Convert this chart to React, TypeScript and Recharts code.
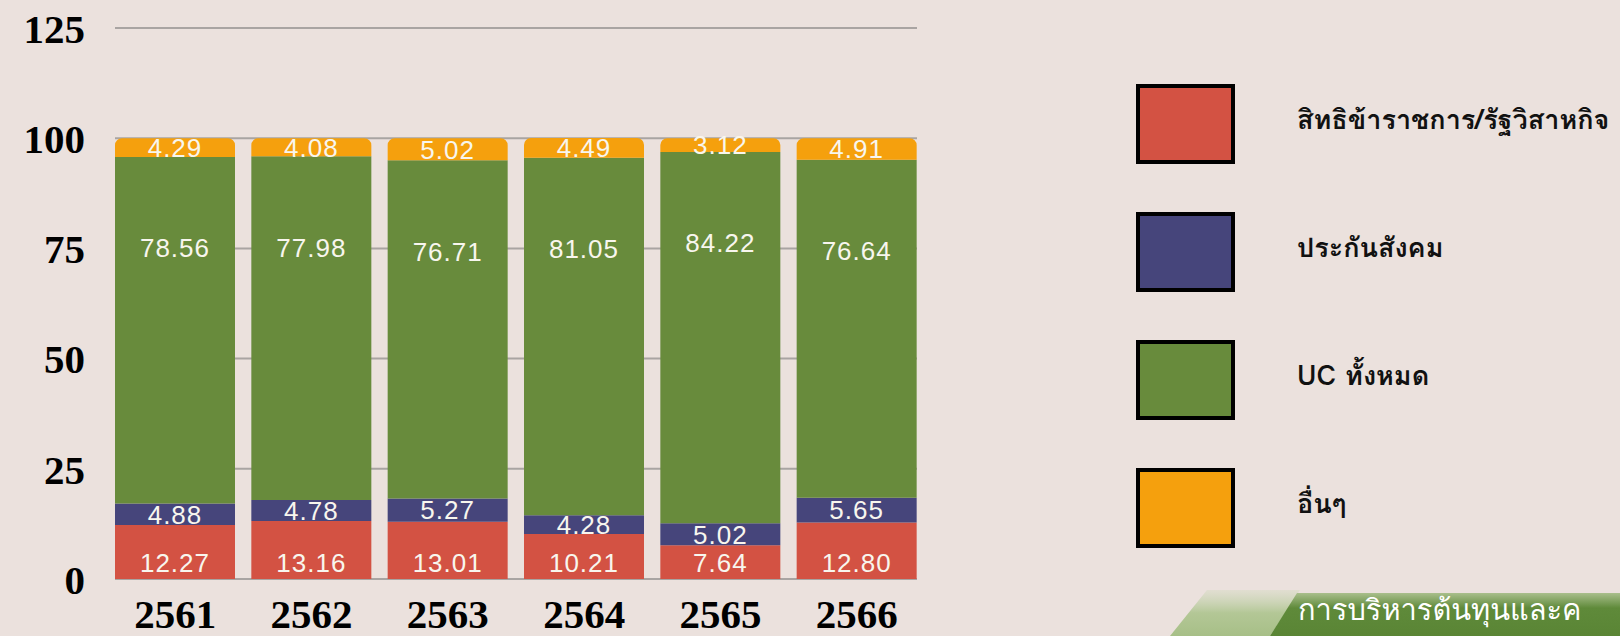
import React from 'react';
import { BarChart, Bar, XAxis, YAxis, CartesianGrid, LabelList } from 'recharts';

const years = ['2561', '2562', '2563', '2564', '2565', '2566'];
const civilServant = [12.27, 13.16, 13.01, 10.21, 7.64, 12.8];
const socialSecurity = [4.88, 4.78, 5.27, 4.28, 5.02, 5.65];
const ucAll = [78.56, 77.98, 76.71, 81.05, 84.22, 76.64];
const others = [4.29, 4.08, 5.02, 4.49, 3.12, 4.91];
const yTicks = [0, 25, 50, 75, 100, 125];
const seriesKeys = ['civil', 'social', 'uc', 'other'];
const seriesNames = ['สิทธิข้าราชการ/รัฐวิสาหกิจ', 'ประกันสังคม', 'UC ทั้งหมด', 'อื่นๆ'];
const seriesColors = ['#d35243', '#46457b', '#688b3c', '#f5a00d'];
const bannerText = 'การบริหารต้นทุนและค';

const data = years.map((y, i) => ({
  year: y,
  civil: civilServant[i],
  social: socialSecurity[i],
  uc: ucAll[i],
  other: others[i],
}));

const BG = '#ebe1dd';
const LABEL_FONT = "'Liberation Sans', Arial, sans-serif";
const SERIF = "'Liberation Serif', 'Times New Roman', serif";
const THAI = "Tahoma, Loma, Garuda, 'Noto Sans Thai Looped', 'Noto Serif Thai', 'Noto Sans Thai', 'Noto Sans', 'DejaVu Sans', sans-serif";

const fmt = (v: any) => Number(v).toFixed(2);

const makeLabel = (mode: 'bottom' | 'center' | 'top') => (props: any) => {
  const { x, y, width, height, value } = props;
  let cy = y + height / 2;
  if (mode === 'bottom') cy = y + height - 16;
  if (mode === 'top') cy = y + 91;
  return (
    <text
      x={x + width / 2}
      y={cy}
      dy="0.36em"
      textAnchor="middle"
      fill="#f8f6ee"
      fontFamily={LABEL_FONT}
      fontSize={26}
      letterSpacing={1}
    >
      {fmt(value)}
    </text>
  );
};

const XTick = (props: any) => {
  const { x, y, payload } = props;
  return (
    <text x={x} y={y + 41} textAnchor="middle" fontFamily={SERIF} fontWeight="bold" fontSize={41} fill="#000">
      {payload.value}
    </text>
  );
};

const YTick = (props: any) => {
  const { x, y, payload } = props;
  return (
    <text x={x} y={y} dy="0.36em" textAnchor="end" fontFamily={SERIF} fontWeight="bold" fontSize={41} fill="#000">
      {payload.value}
    </text>
  );
};

const LegendBlock = () => (
  <div style={{ position: 'absolute', left: 1136, top: 84 }}>
    {seriesNames.map((name, i) => (
      <div key={name} style={{ display: 'flex', alignItems: 'center', height: 79, marginBottom: 49 }}>
        <div
          style={{
            width: 91,
            height: 72,
            background: seriesColors[i],
            border: '4px solid #000',
            boxSizing: 'content-box',
          }}
        />
        <div
          style={{
            marginLeft: 62,
            marginTop: -8,
            fontFamily: THAI,
            fontWeight: 'bold',
            fontSize: 27,
            color: '#111',
            whiteSpace: 'nowrap',
          }}
        >
          {name}
        </div>
      </div>
    ))}
  </div>
);

const Banner = () => (
  <svg width={460} height={70} style={{ position: 'absolute', left: 1160, top: 566 }}>
    <defs>
      <linearGradient id="lg1" x1="0" y1="0" x2="0" y2="1">
        <stop offset="0" stopColor="#c9d6b4" stopOpacity="0.3" />
        <stop offset="0.5" stopColor="#b3c796" />
        <stop offset="1" stopColor="#a7bf87" />
      </linearGradient>
      <linearGradient id="lg2" x1="0" y1="0" x2="0" y2="1">
        <stop offset="0" stopColor="#a9bf8c" />
        <stop offset="0.35" stopColor="#5f8a3a" />
        <stop offset="1" stopColor="#5a8535" />
      </linearGradient>
    </defs>
    <polygon points="10,70 47,24 140,24 110,70" fill="url(#lg1)" />
    <polygon points="110,70 137,27 460,27 460,70" fill="url(#lg2)" />
    <text x={138} y={54} fill="#ffffff" fontFamily={THAI} fontSize={29}>
      {bannerText}
    </text>
  </svg>
);

export default function App() {
  return (
    <div style={{ position: 'fixed', left: 0, top: 0, width: 1620, height: 636, background: BG, overflow: 'hidden' }}>
      <BarChart
        width={1620}
        height={636}
        data={data}
        margin={{ top: 28, right: 703, bottom: 0, left: 0 }}
        barCategoryGap={8}
      >
        <CartesianGrid vertical={false} stroke="#a9a4a2" strokeWidth={2} />
        <XAxis
          dataKey="year"
          axisLine={false}
          tickLine={false}
          height={57}
          padding={{ left: -8, right: -8 }}
          tick={<XTick />}
          interval={0}
        />
        <YAxis
          domain={[0, 125]}
          ticks={yTicks}
          width={115}
          axisLine={false}
          tickLine={false}
          tickSize={0}
          tickMargin={30}
          tick={<YTick />}
          interval={0}
        />
        <Bar dataKey={seriesKeys[0]} name={seriesNames[0]} stackId="a" fill={seriesColors[0]} isAnimationActive={false}>
          <LabelList dataKey={seriesKeys[0]} content={makeLabel('bottom')} />
        </Bar>
        <Bar dataKey={seriesKeys[1]} name={seriesNames[1]} stackId="a" fill={seriesColors[1]} isAnimationActive={false}>
          <LabelList dataKey={seriesKeys[1]} content={makeLabel('center')} />
        </Bar>
        <Bar dataKey={seriesKeys[2]} name={seriesNames[2]} stackId="a" fill={seriesColors[2]} isAnimationActive={false}>
          <LabelList dataKey={seriesKeys[2]} content={makeLabel('top')} />
        </Bar>
        <Bar
          dataKey={seriesKeys[3]}
          name={seriesNames[3]}
          stackId="a"
          fill={seriesColors[3]}
          radius={[7, 7, 0, 0]}
          isAnimationActive={false}
        >
          <LabelList dataKey={seriesKeys[3]} content={makeLabel('center')} />
        </Bar>
      </BarChart>
      <LegendBlock />
      <Banner />
    </div>
  );
}
